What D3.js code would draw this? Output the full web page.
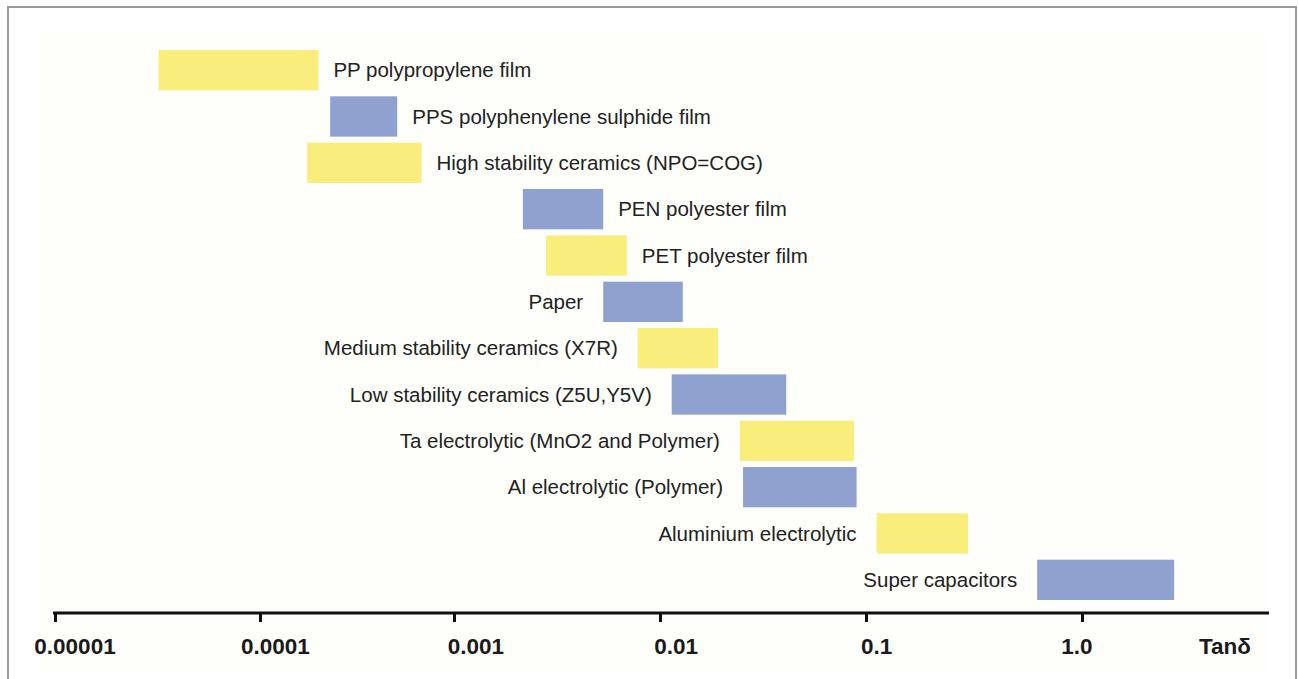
<!DOCTYPE html>
<html>
<head>
<meta charset="utf-8">
<script src="https://cdn.jsdelivr.net/npm/d3@7"></script>
<style>
  html, body { margin: 0; padding: 0; background: #ffffff; }
  svg { display: block; }
</style>
</head>
<body>
<svg id="chart" width="1299" height="679"></svg>
<script>
// ---- data ----
const categories = [
  "PP polypropylene film",
  "PPS polyphenylene sulphide film",
  "High stability ceramics (NPO=COG)",
  "PEN polyester film",
  "PET polyester film",
  "Paper",
  "Medium stability ceramics (X7R)",
  "Low stability ceramics (Z5U,Y5V)",
  "Ta electrolytic (MnO2 and Polymer)",
  "Al electrolytic (Polymer)",
  "Aluminium electrolytic",
  "Super capacitors"
];
const tanMin = [3.2e-5, 2.3e-4, 1.75e-4, 2.16e-3, 2.8e-3, 5.3e-3, 7.8e-3, 1.14e-2, 2.44e-2, 2.53e-2, 0.112, 0.62];
const tanMax = [2.0e-4, 5.1e-4, 6.8e-4, 5.3e-3, 6.9e-3, 1.29e-2, 1.91e-2, 4.1e-2, 8.75e-2, 9.0e-2, 0.297, 2.67];
const labelSide = ["right","right","right","right","right","left","left","left","left","left","left","left"];
const tickValues = [1e-5, 1e-4, 1e-3, 1e-2, 1e-1, 1];
const tickLabels = ["0.00001", "0.0001", "0.001", "0.01", "0.1", "1.0"];
const axisTitle = "Tanδ";

// ---- layout ----
const svg = d3.select("#chart");
const YELLOW = "#f9ee7c", BLUE = "#8fa2cf";

svg.append("rect").attr("x", 8).attr("y", 7).attr("width", 1288).attr("height", 680)
  .attr("fill", "#ffffff").attr("stroke", "#9a9a9a").attr("stroke-width", 2);
svg.append("rect").attr("x", 40).attr("y", 33).attr("width", 1227).attr("height", 640)
  .attr("fill", "#fefefb");

// piecewise log scale (reference axis decades are slightly uneven)
const x = d3.scaleLog()
  .domain(tickValues)
  .range([55, 260, 454, 660, 866, 1082]);
// label positions are evenly spaced in the reference
const xLabel = d3.scaleLog().domain([1e-5, 1]).range([75, 1077]);

const y = d3.scaleBand()
  .domain(categories)
  .range([50, 600])
  .paddingInner(0.13)
  .paddingOuter(0);

const axisY = 613;
const font = "Liberation Sans, Arial, sans-serif";

// bars
svg.append("g").selectAll("rect")
  .data(categories)
  .join("rect")
  .attr("x", (d, i) => x(tanMin[i]))
  .attr("width", (d, i) => x(tanMax[i]) - x(tanMin[i]))
  .attr("y", d => y(d))
  .attr("height", y.bandwidth())
  .attr("fill", (d, i) => i % 2 === 0 ? YELLOW : BLUE);

// labels
svg.append("g").selectAll("text")
  .data(categories)
  .join("text")
  .attr("x", (d, i) => labelSide[i] === "right" ? x(tanMax[i]) + 15 : x(tanMin[i]) - 20)
  .attr("y", d => y(d) + y.bandwidth() / 2)
  .attr("dy", "0.35em")
  .attr("text-anchor", (d, i) => labelSide[i] === "right" ? "start" : "end")
  .attr("font-family", font)
  .attr("font-size", 20.5)
  .attr("fill", "#222222")
  .text(d => d);

// axis
const axis = d3.axisBottom(x)
  .tickValues(tickValues)
  .tickFormat("")
  .tickSize(9)
  .tickSizeOuter(0);
const gAxis = svg.append("g").attr("transform", `translate(0,${axisY})`).call(axis);
gAxis.select(".domain").remove();
gAxis.selectAll(".tick line").attr("stroke", "#111").attr("stroke-width", 3);
gAxis.append("line")
  .attr("x1", 53).attr("x2", 1269).attr("y1", 0).attr("y2", 0)
  .attr("stroke", "#111").attr("stroke-width", 3);

// tick labels
svg.append("g").selectAll("text")
  .data(tickValues)
  .join("text")
  .attr("x", d => xLabel(d))
  .attr("y", 654)
  .attr("text-anchor", "middle")
  .attr("font-family", font)
  .attr("font-weight", "bold")
  .attr("font-size", 22.5)
  .attr("fill", "#1a1a1a")
  .text((d, i) => tickLabels[i]);

svg.append("text")
  .attr("x", 1225).attr("y", 654)
  .attr("text-anchor", "middle")
  .attr("font-family", font)
  .attr("font-weight", "bold")
  .attr("font-size", 22.5)
  .attr("fill", "#1a1a1a")
  .text(axisTitle);
</script>
</body>
</html>
